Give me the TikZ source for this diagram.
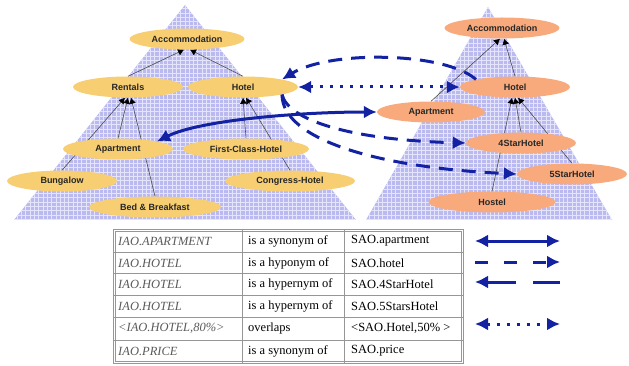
\documentclass[tikz,border=0pt]{standalone}
\usepackage{fontspec}
\setmainfont{Liberation Serif}
\newfontfamily\nodefont{Liberation Sans}
\usetikzlibrary{shapes.geometric,arrows.meta}
\pgfdeclarelayer{bg}
\pgfdeclarelayer{edges}
\pgfsetlayers{bg,edges,main}

\definecolor{pyrcol}{RGB}{186,186,240}
\definecolor{gridcol}{RGB}{228,228,252}
\definecolor{lnodecol}{RGB}{247,206,114}
\definecolor{rnodecol}{RGB}{248,170,124}
\definecolor{relblue}{RGB}{18,34,162}
\definecolor{tabline}{RGB}{150,150,150}
\definecolor{iaogray}{RGB}{90,90,90}

\begin{document}
\begin{tikzpicture}[x=1pt,y=-1pt,
  concept/.style={ellipse,inner sep=0pt,minimum height=21pt,
    font=\nodefont\bfseries\fontsize{9}{10}\selectfont,text=black!85},
  lconcept/.style={concept,fill=lnodecol},
  rconcept/.style={concept,fill=rnodecol},
  isa/.style={draw=black!70,line width=0.6pt,-{Latex[length=6pt,width=7pt,color=black]}},
  rel/.style={draw=relblue,line width=3pt,>={Latex[length=13pt,width=13pt]}},
  dashrel/.style={rel,dash pattern=on 14pt off 9pt},
  dotrel/.style={rel,dash pattern=on 3pt off 7pt},
  cell/.style={anchor=west,inner sep=0pt,font=\fontsize{12.5}{14}\selectfont},
  iaocell/.style={cell,font=\fontsize{12.5}{14}\selectfont\itshape,text=iaogray},
  grid lines/.style={draw=gridcol,line width=0.7pt}
]
\useasboundingbox (0,0) rectangle (629,366);

% ---------- the two pyramids ----------
\begin{pgfonlayer}{bg}
  \begin{scope}
    \clip (185,5) -- (356,220) -- (14,220) -- cycle;
    \fill[pyrcol] (0,0) rectangle (370,230);
    \draw[grid lines,step=4.3pt] (0,0) grid (370,230);
  \end{scope}
  \begin{scope}
    \clip (488,7) -- (612,220) -- (366,220) -- cycle;
    \fill[pyrcol] (360,0) rectangle (629,230);
    \draw[grid lines,step=4.3pt] (360,0) grid (629,230);
  \end{scope}
\end{pgfonlayer}

% ---------- left ontology ----------
\node[lconcept,minimum width=115pt] (accL)    at (187,39)  {Accommodation};
\node[lconcept,minimum width=110pt] (rentals) at (128,87)  {Rentals};
\node[lconcept,minimum width=110pt] (hotelL)  at (243,87)  {Hotel};
\node[lconcept,minimum width=110pt] (aptL)    at (118,149) {Apartment};
\node[lconcept,minimum width=126pt] (fch)     at (246,149) {First-Class-Hotel};
\node[lconcept,minimum width=110pt] (bung)    at (62,181)  {Bungalow};
\node[lconcept,minimum width=130pt] (ch)      at (290,181) {Congress-Hotel};
\node[lconcept,minimum width=132pt] (bb)      at (155,207) {Bed \& Breakfast};

% ---------- right ontology ----------
\node[rconcept,minimum width=115pt] (accR)   at (502,28)  {Accommodation};
\node[rconcept,minimum width=110pt] (hotelR) at (515,87)  {Hotel};
\node[rconcept,minimum width=108pt] (aptR)   at (431,112) {Apartment};
\node[rconcept,minimum width=110pt] (s4)     at (521,143) {4StarHotel};
\node[rconcept,minimum width=110pt] (s5)     at (572,174) {5StarHotel};
\node[rconcept,minimum width=127pt] (hostel) at (492,202) {Hostel};

% ---------- subclass links ----------
\begin{pgfonlayer}{edges}
  \draw[isa] (rentals.north) -- ([xshift=-3pt]accL.south);
  \draw[isa] (hotelL.north)  -- ([xshift=3pt]accL.south);
  \draw[isa] (bung.north)    -- ([xshift=-3pt]rentals.south);
  \draw[isa] (aptL.north)    -- (rentals.south);
  \draw[isa] (bb.north)      -- ([xshift=3pt]rentals.south);
  \draw[isa] (fch.north)     -- (hotelL.south);
  \draw[isa] (ch.north)      -- ([xshift=3pt]hotelL.south);

  \draw[isa] (aptR.north)    -- ([xshift=-2pt]accR.south);
  \draw[isa] (hotelR.north)  -- ([xshift=2pt]accR.south);
  \draw[isa] (s4.north)      -- (hotelR.south);
  \draw[isa] (hostel.north)  -- ([xshift=-3pt]hotelR.south);
  \draw[isa] (s5.north)      -- ([xshift=3pt]hotelR.south);
\end{pgfonlayer}

% ---------- mappings between the ontologies ----------
\draw[rel,<->] (aptL.north east) .. controls (200,120) and (300,112) .. (aptR.west);
\draw[dotrel,<->] (hotelL.east) -- (hotelR.west);
\draw[dashrel,->] (hotelR.north west) .. controls (445,52) and (330,50) .. (hotelL.north east);
\draw[dashrel,->] (hotelL.south east) .. controls (288,120) and (350,140) .. (s4.west);
\draw[dashrel,->] (hotelL.south east) .. controls (282,140) and (380,168) .. (s5.west);

% ---------- mapping table ----------
\draw[tabline,line width=0.7pt] (113,229) rectangle (463,363);
\draw[tabline,line width=0.7pt] (115,231) rectangle (461,361);
\foreach \yy in {252,273,295,317,340}
  \draw[tabline,line width=0.9pt] (113,\yy) -- (463,\yy);
\draw[tabline,line width=0.9pt] (242,229) -- (242,363);
\draw[tabline,line width=0.9pt] (344,229) -- (344,363);

\node[iaocell] (a1) at (118,241) {IAO.APARTMENT};
\node[cell]    (b1) at (248,241) {is a synonym of};
\node[cell]    (c1) at (351,241) {SAO.apartment};
\node[iaocell] (a2) at (118,263) {IAO.HOTEL};
\node[cell]    (b2) at (248,263) {is a hyponym of};
\node[cell]    (c2) at (351,263) {SAO.hotel};
\node[iaocell] (a3) at (118,284) {IAO.HOTEL};
\node[cell]    (b3) at (248,284) {is a hypernym of};
\node[cell]    (c3) at (351,284) {SAO.4StarHotel};
\node[iaocell] (a4) at (118,306) {IAO.HOTEL};
\node[cell]    (b4) at (248,306) {is a hypernym of};
\node[cell]    (c4) at (351,306) {SAO.5StarsHotel};
\node[iaocell] (a5) at (118,328) {\textless IAO.HOTEL,80\%\textgreater};
\node[cell]    (b5) at (248,328) {overlaps};
\node[cell]    (c5) at (351,328) {\textless SAO.Hotel,50\% \textgreater};
\node[iaocell] (a6) at (118,351) {IAO.PRICE};
\node[cell]    (b6) at (248,351) {is a synonym of};
\node[cell]    (c6) at (351,351) {SAO.price};

% ---------- legend of the line styles ----------
\coordinate (l1a) at (475,241); \coordinate (l1b) at (560,241);
\coordinate (l2a) at (475,262); \coordinate (l2b) at (560,262);
\coordinate (l3a) at (516,282); \coordinate (l3b) at (475,282);
\coordinate (l3c) at (533,282); \coordinate (l3d) at (560,282);
\coordinate (l5a) at (475,324); \coordinate (l5b) at (560,324);
\draw[rel,<->] (l1a) -- (l1b);
\draw[rel,dash pattern=on 13pt off 16pt,->] (l2a) -- (l2b);
\draw[rel,->] (l3a) -- (l3b);
\draw[rel] (l3c) -- (l3d);
\draw[dotrel,<->] (l5a) -- (l5b);
\end{tikzpicture}
\end{document}
